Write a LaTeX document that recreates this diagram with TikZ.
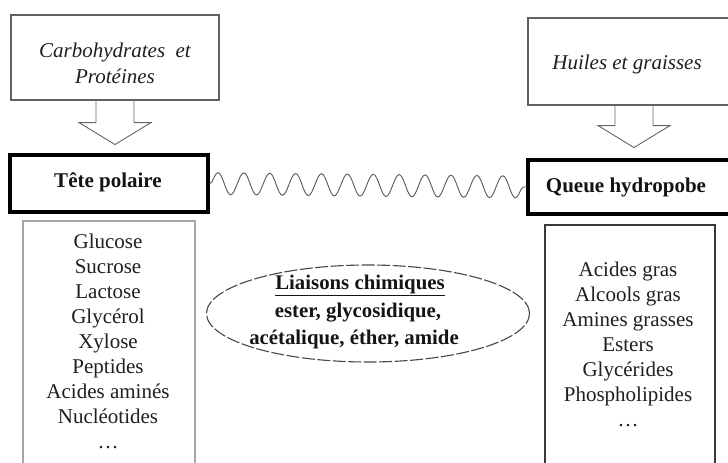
\documentclass[tikz,border=0pt]{standalone}
\usepackage{fontspec}
\setmainfont{Liberation Serif}
\usetikzlibrary{decorations.pathmorphing,shapes.geometric,calc}
\begin{document}
\begin{tikzpicture}[x=1pt,y=-1pt,
  topbox/.style={draw=black!62, line width=1.1pt, inner sep=0pt},
  headbox/.style={draw=black, line width=3.4pt, inner sep=0pt},
  listbox/.style={line width=1.1pt, inner sep=0pt},
  arrowline/.style={draw=black!60, line width=0.9pt, line join=miter},
  ittext/.style={font=\fontsize{21}{26}\selectfont\itshape, text=black!88, inner sep=0pt, anchor=base},
  headtext/.style={font=\fontsize{21}{25}\selectfont\bfseries, text=black!92, inner sep=0pt, anchor=base},
  listtext/.style={font=\fontsize{21}{25}\selectfont, text=black!88, inner sep=0pt, anchor=base},
  elltext/.style={font=\fontsize{20.8}{27}\selectfont\bfseries, text=black!92, inner sep=0pt, anchor=base},
  wave/.style={draw=black!65, line width=0.9pt, decorate,
    decoration={snake, segment length=25.9pt, amplitude=11pt}},
  bond/.style={ellipse, draw=black!72, line width=1.1pt, dash pattern=on 13pt off 2.5pt, inner sep=0pt}
]
\clip (0,0) rectangle (728,463);
\fill[white] (0,0) rectangle (728,463);

% top boxes
\node[topbox, minimum width=208, minimum height=85] (cb) at (115,57.5) {};
\node[ittext] (cbt1) at (115,57.5) {Carbohydrates\ \ et};
\node[ittext] (cbt2) at (115,83.5) {Protéines};

\node[topbox, minimum width=214, minimum height=87] (hb) at (635,61.5) {};
\node[ittext] (hbt) at (627,69.5) {Huiles et graisses};

% arrows
\draw[arrowline] (cb.south) ++(-19,0) -- ++(0,22) -- ++(-17,0) -- ++(36,22) -- ++(36,-22) -- ++(-17,0) -- ++(0,-22);
\draw[arrowline] (hb.south -| 634,0) ++(-19,0) -- ++(0,20) -- ++(-17,0) -- ++(36,22) -- ++(36,-22) -- ++(-17,0) -- ++(0,-20);

% head boxes
\node[headbox, minimum width=198, minimum height=57] (tp) at (109,183.5) {};
\node[headtext] (tpt) at (108,187.5) {Tête polaire};
\node[headbox, minimum width=214, minimum height=54] (qh) at (635,187) {};
\node[headtext] (qht) at (626,192.5) {Queue hydropobe};

% wave
\draw[wave] (tp.east) -- (qh.west);

% list boxes
\node[listbox, draw=black!35, minimum width=172, minimum height=262] (lb) at (109,352) {};
\node[listbox, draw=black!78, minimum width=170, minimum height=258] (rb) at (630,354) {};

\foreach \t [count=\i from 0] in {Glucose,Sucrose,Lactose,Glycérol,Xylose,Peptides,Acides aminés,Nucléotides,\dots}
  \node[listtext] (l\i) at (108,{248.5+25*\i}) {\t};
\foreach \t [count=\i from 0] in {Acides gras,Alcools gras,Amines grasses,Esters,Glycérides,Phospholipides,\dots}
  \node[listtext] (r\i) at (628,{276+25*\i}) {\t};

% ellipse
\node[bond, minimum width=323, minimum height=97] (el) at (368,313.5) {};
\node[elltext] (e1) at (360,289) {\underline{Liaisons chimiques}};
\node[elltext] (e2) at (358,317) {ester, glycosidique,};
\node[elltext] (e3) at (354,344) {acétalique, éther, amide};
\end{tikzpicture}
\end{document}
